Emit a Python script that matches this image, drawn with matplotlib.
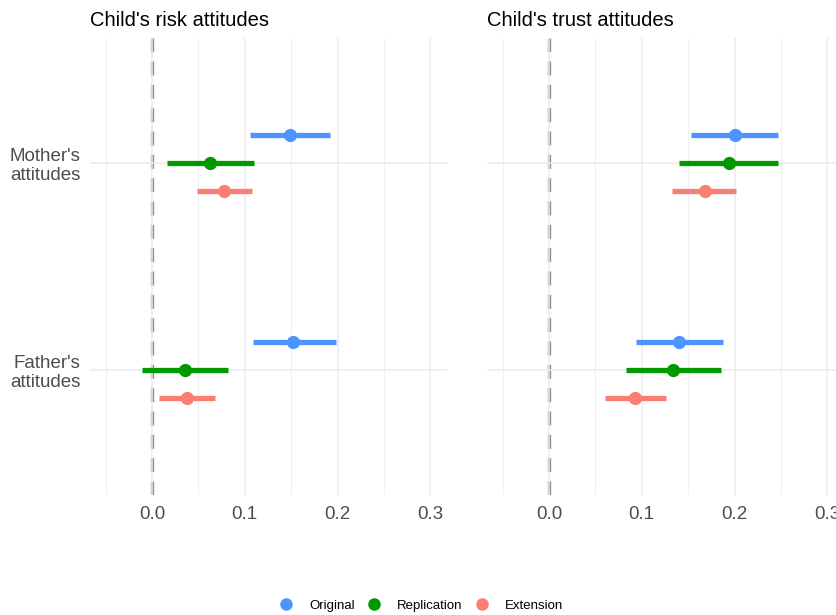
import matplotlib
matplotlib.use("Agg")
import matplotlib.pyplot as plt
from matplotlib.lines import Line2D
import numpy as np

plt.rcParams['font.family'] = ['Liberation Sans', 'DejaVu Sans']

# data
panels = ["Child's risk attitudes", "Child's trust attitudes"]
predictors = ["Father's\nattitudes", "Mother's\nattitudes"]   # bottom to top
series = ["Original", "Replication", "Extension"]
colors = ["#4D94FF", "#009900", "#FA7F72"]

# estimate, low, high ; rows = series, cols = predictors (Father, Mother)
risk_est = np.array([[0.152, 0.149], [0.0356, 0.0626], [0.0381, 0.0777]])
risk_lo = np.array([[0.1086, 0.106], [-0.0111, 0.0158], [0.0079, 0.0485]])
risk_hi = np.array([[0.198, 0.192], [0.0823, 0.110], [0.068, 0.1075]])

trust_est = np.array([[0.1398, 0.200], [0.134, 0.1935], [0.093, 0.1676]])
trust_lo = np.array([[0.0937, 0.1535], [0.0832, 0.1405], [0.0598, 0.133]])
trust_hi = np.array([[0.1874, 0.247], [0.1856, 0.247], [0.126, 0.2018]])

xticks = [0.0, 0.1, 0.2, 0.3]
xminor = [-0.05, 0.05, 0.15, 0.25]

fig = plt.figure(figsize=(8.36, 6.15), dpi=100)
ax1 = fig.add_axes([90 / 836, 120 / 615, 357 / 836, 457 / 615])
ax2 = fig.add_axes([487 / 836, 120 / 615, 357 / 836, 457 / 615])

dodge = [0.135, 0.0, -0.135]
ypos = np.arange(1, len(predictors) + 1)

for ax, title, est, lo, hi in [(ax1, panels[0], risk_est, risk_lo, risk_hi),
                               (ax2, panels[1], trust_est, trust_lo, trust_hi)]:
    for sp in ax.spines.values():
        sp.set_visible(False)
    ax.set_xlim(-0.0669, 0.318)
    ax.set_ylim(0.4, 2.6)
    ax.set_xticks(xticks)
    ax.set_xticklabels(["0.0", "0.1", "0.2", "0.3"])
    ax.set_xticks(xminor, minor=True)
    ax.set_yticks(ypos)
    ax.grid(True, which='major', color='#EBEBEB', lw=1.1, zorder=0)
    ax.grid(True, which='minor', axis='x', color='#F0F0F0', lw=0.8, zorder=0)
    ax.tick_params(which='both', length=0, labelsize=13.5, labelcolor='#4D4D4D', pad=8)
    ax.axvline(0, color='#8F8F8F', lw=2.4, ls=(0, (4.2, 2.8)), zorder=1)
    for i in range(len(series)):
        y = ypos + dodge[i]
        ax.hlines(y, lo[i], hi[i], color=colors[i], lw=3.8, zorder=2)
        ax.plot(est[i], y, 'o', color=colors[i], ms=8.5, zorder=3)
    ax.set_title(title, loc='left', fontsize=14.5, color='black', pad=9)

ax1.set_yticklabels(predictors, fontsize=13.5, color='#4D4D4D', linespacing=1.15)
ax1.tick_params(axis='y', pad=7)
ax2.set_yticklabels([])

handles = [Line2D([], [], marker='o', ls='', color=c, ms=8) for c in colors]
fig.legend(handles, series, loc='lower center', bbox_to_anchor=(0.5, -0.014), ncol=3,
           frameon=False, fontsize=9.5, handletextpad=0.7, columnspacing=0.5)

fig.savefig("out.png", dpi=100, facecolor='white')
